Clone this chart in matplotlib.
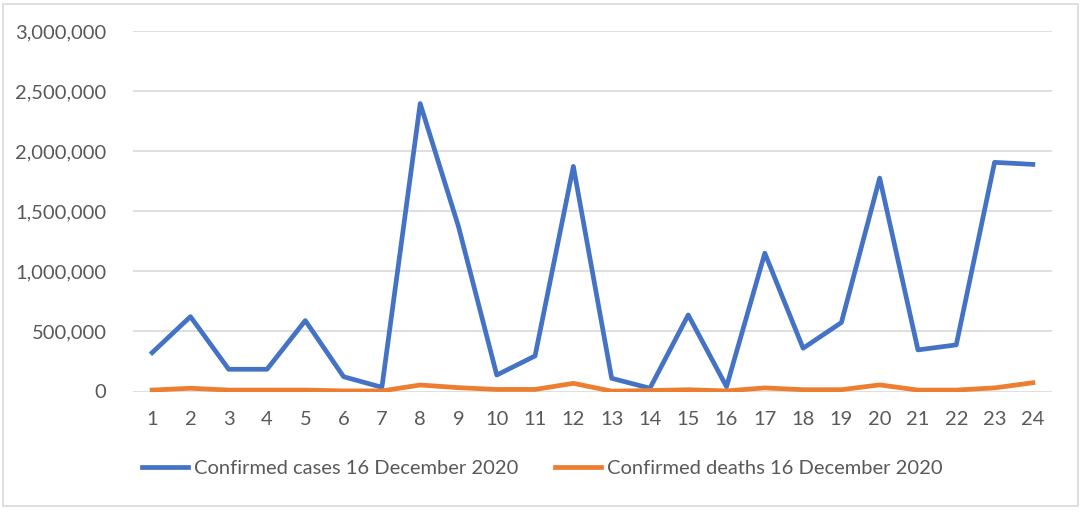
import numpy as np
import matplotlib.pyplot as plt
from matplotlib.ticker import FuncFormatter
from matplotlib.patches import Rectangle

# values
countries = list(range(1, 25))
confirmed_cases = [323000, 623000, 185000, 185000, 590000, 123000, 35000, 2396000,
                   1373000, 137000, 296000, 1873000, 110000, 27000, 637000, 40000,
                   1151000, 360000, 574000, 1776000, 346000, 388000, 1907000, 1890000]
confirmed_deaths = [12000, 27000, 12000, 12000, 12000, 5000, 5000, 54000,
                    32000, 17000, 17000, 68000, 3000, 8000, 15000, 5000,
                    30000, 15000, 15000, 55000, 12000, 12000, 30000, 73000]
y_ticks = [0, 500000, 1000000, 1500000, 2000000, 2500000, 3000000]

plt.rcParams['font.family'] = ['Lato', 'DejaVu Sans']
text_col = '#595959'

fig = plt.figure(figsize=(10.84, 5.12), dpi=100)
ax = fig.add_axes([133/1084, 1-391.5/512, (1052-133)/1084, (391.5-31)/512])

# chart border
fig.patches.append(Rectangle((3/1084, 6/512), 1075/1084, 502/512, transform=fig.transFigure,
                             fill=False, edgecolor='#d9d9d9', linewidth=1.2))

ax.plot(countries, confirmed_cases, color='#4472C4', linewidth=3.4, solid_joinstyle='round',
        label='Confirmed cases 16 December 2020', zorder=3)
ax.plot(countries, confirmed_deaths, color='#ED7D31', linewidth=3.4, solid_joinstyle='round',
        label='Confirmed deaths 16 December 2020', zorder=3)

ax.set_xlim(0.5, 24.5)
ax.set_ylim(0, 3000000)
ax.set_yticks(y_ticks)
ax.set_xticks(countries)
ax.yaxis.set_major_formatter(FuncFormatter(lambda v, p: '{:,.0f}'.format(v)))
ax.grid(axis='y', color='#d9d9d9', linewidth=1.2)
ax.set_axisbelow(True)
for s in ax.spines.values():
  s.set_visible(False)
ax.tick_params(length=0, labelsize=14.5, colors=text_col)
ax.tick_params(axis='y', pad=19)
ax.tick_params(axis='x', pad=14)

leg = fig.legend(loc='center', bbox_to_anchor=(0.5, 1-468/512), ncol=2, frameon=False,
                 fontsize=14.5, handlelength=2.3, handletextpad=0.3, columnspacing=1.8)
for t in leg.get_texts():
  t.set_color(text_col)

fig.savefig('out.png', dpi=100)
